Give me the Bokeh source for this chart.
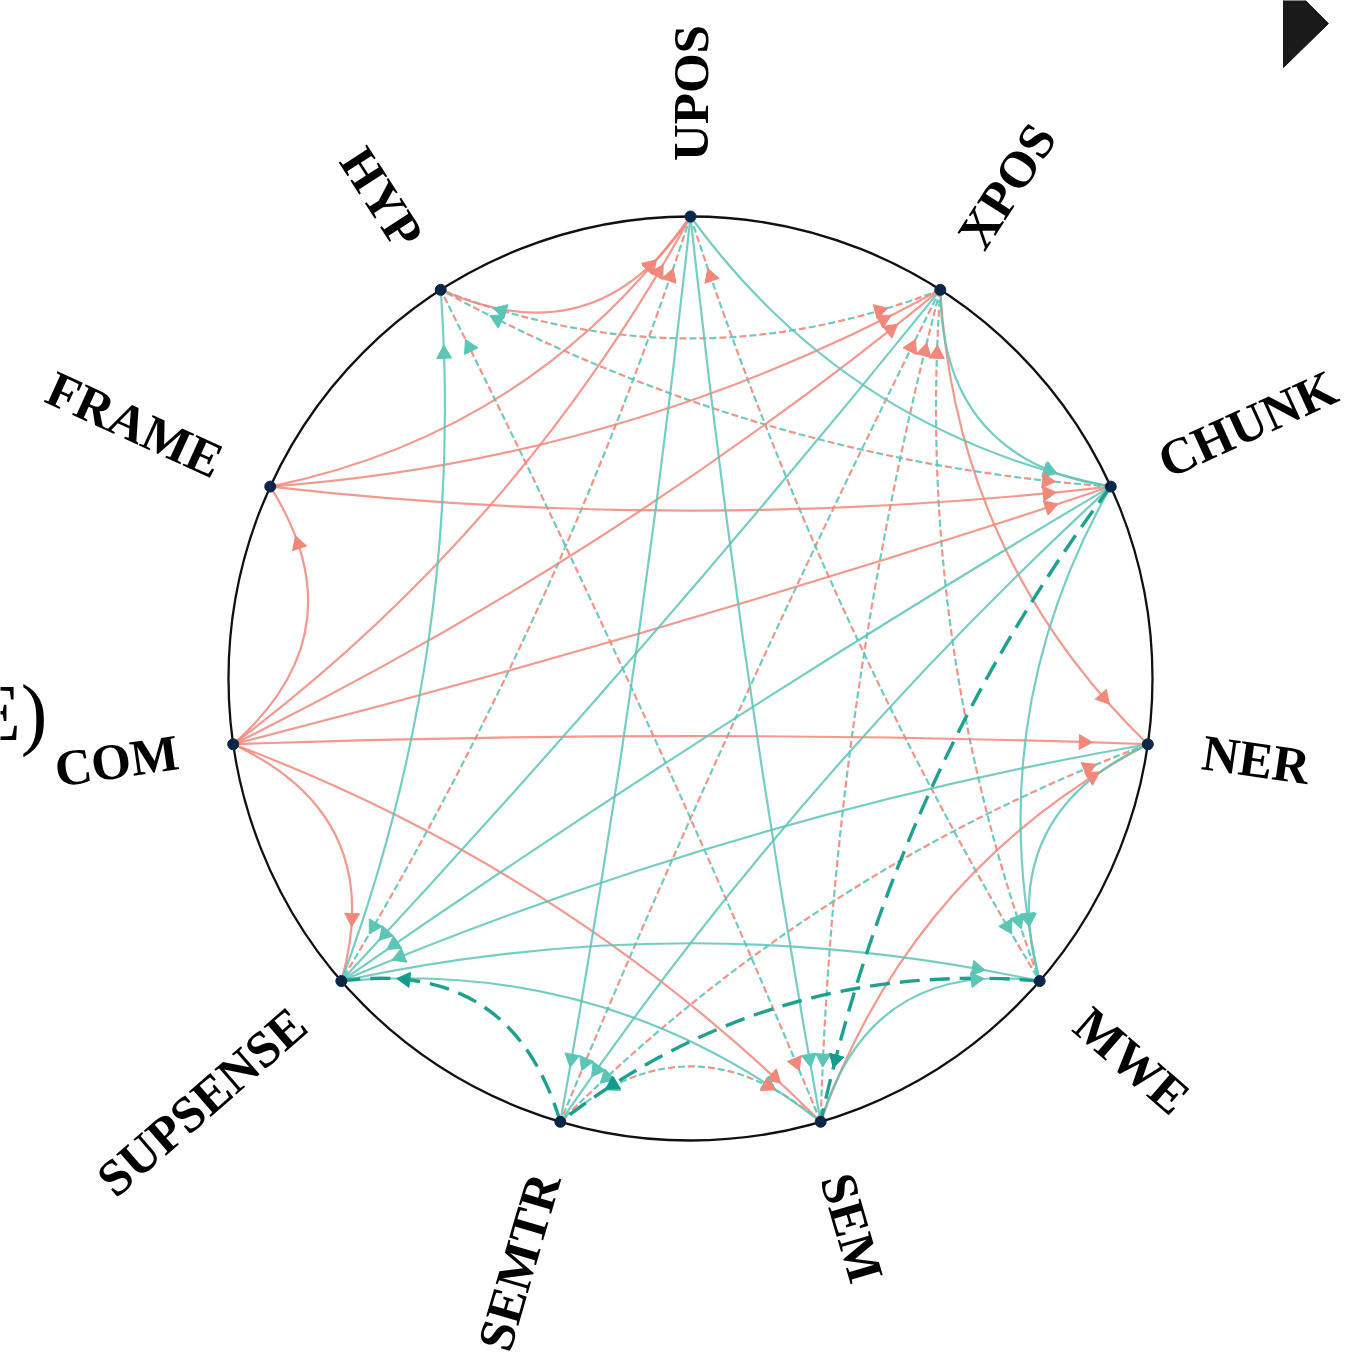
import numpy as np
from bokeh.plotting import figure
from bokeh.models import Range1d, ColumnDataSource
from bokeh.core.properties import value
from bokeh.embed import file_html
from bokeh.resources import INLINE

# ---------------- data ----------------
nodes = ["UPOS", "XPOS", "CHUNK", "NER", "MWE", "SEM", "SEMTR",
         "SUPSENSE", "COM", "FRAME", "HYP"]

# solid salmon edges (source -> target)
salmon_solid = [("HYP", "UPOS"), ("FRAME", "UPOS"), ("COM", "UPOS"),
                ("FRAME", "XPOS"), ("COM", "XPOS"), ("FRAME", "CHUNK"),
                ("COM", "CHUNK"), ("XPOS", "NER"), ("COM", "NER"),
                ("COM", "FRAME"), ("COM", "SUPSENSE"), ("COM", "SEM"),
                ("SEM", "NER")]

# solid teal edges (source -> target)
teal_solid = [("UPOS", "CHUNK"), ("XPOS", "CHUNK"), ("UPOS", "SEMTR"),
              ("UPOS", "SEM"), ("XPOS", "SUPSENSE"), ("CHUNK", "SUPSENSE"),
              ("CHUNK", "SEMTR"), ("CHUNK", "MWE"), ("NER", "SUPSENSE"),
              ("NER", "MWE"), ("SUPSENSE", "HYP"), ("SUPSENSE", "MWE"),
              ("SUPSENSE", "SEM"), ("SEM", "MWE")]

# two-way dashed edges: (salmon arrow target, teal arrow target)
mixed_dashed = [("XPOS", "HYP"), ("CHUNK", "HYP"), ("SEM", "HYP"),
                ("UPOS", "SUPSENSE"), ("UPOS", "MWE"), ("XPOS", "SEMTR"),
                ("XPOS", "SEM"), ("XPOS", "MWE"), ("NER", "SEMTR"),
                ("SEM", "SEMTR")]

# thick dark dashed edges (source -> target)
dark_dashed = [("SEMTR", "SUPSENSE"), ("MWE", "SEMTR"), ("CHUNK", "SEM")]

panel_label = "(E)"

# ---------------- style ----------------
SALMON = "#F3877A"
TEAL = "#5CC6B6"
DARK = "#149B89"
NODE = "#0B2748"
PX = 462.0          # pixels per unit radius
CX, CY = 690.0, 678.0
W, H = 1345, 1369
BEND = 0.75         # control point = BEND * chord midpoint
ARROW_D = 64.0 / PX
ARROW_SIZE = 15

ang = np.deg2rad(90.0 - np.arange(len(nodes)) * 360.0 / len(nodes))
pos = {n: (float(np.cos(a)), float(np.sin(a))) for n, a in zip(nodes, ang)}


def curve(a, b):
    (x0, y0), (x1, y1) = pos[a], pos[b]
    cx, cy = BEND * (x0 + x1) / 2, BEND * (y0 + y1) / 2
    return x0, y0, x1, y1, cx, cy


def arrow_at(a, b):
    """arrow on curve a->b, a fixed arc length before b"""
    x0, y0, x1, y1, cx, cy = curve(a, b)
    t = np.linspace(0, 1, 600)
    bx = (1 - t) ** 2 * x0 + 2 * t * (1 - t) * cx + t ** 2 * x1
    by = (1 - t) ** 2 * y0 + 2 * t * (1 - t) * cy + t ** 2 * y1
    seg = np.hypot(np.diff(bx), np.diff(by))
    from_end = np.concatenate([np.cumsum(seg[::-1])[::-1], [0.0]])
    i = int(np.argmin(np.abs(from_end - ARROW_D)))
    tt = t[i]
    dx = 2 * (1 - tt) * (cx - x0) + 2 * tt * (x1 - cx)
    dy = 2 * (1 - tt) * (cy - y0) + 2 * tt * (y1 - cy)
    return bx[i], by[i], float(np.arctan2(dy, dx) - np.pi / 2)


def curve_source(edges):
    cols = {k: [] for k in ("x0", "y0", "x1", "y1", "cx", "cy")}
    for a, b in edges:
        for k, v in zip(("x0", "y0", "x1", "y1", "cx", "cy"), curve(a, b)):
            cols[k].append(v)
    return ColumnDataSource(cols)


def arrow_source(edges):
    xs, ys, an = [], [], []
    for a, b in edges:
        x, y, r = arrow_at(a, b)
        xs.append(x); ys.append(y); an.append(r)
    return ColumnDataSource(dict(x=xs, y=ys, angle=an))


p = figure(width=W, height=H,
           x_range=Range1d(-CX / PX, (W - CX) / PX),
           y_range=Range1d(-(H - CY) / PX, CY / PX),
           output_backend="svg", toolbar_location=None,
           x_axis_type=None, y_axis_type=None,
           min_border=0, outline_line_color=None,
           background_fill_color="white", border_fill_color="white")
p.grid.visible = False

# outer circle
p.circle(x=[0.0], y=[0.0], radius=1.0, fill_color=None,
         line_color="#111111", line_width=2.3)

# dashed two-tone edges
dsrc = curve_source(mixed_dashed)
p.quadratic(x0="x0", y0="y0", x1="x1", y1="y1", cx="cx", cy="cy", source=dsrc,
            line_color=SALMON, line_width=2.2, line_alpha=0.9,
            line_dash="7 13", line_dash_offset=0)
p.quadratic(x0="x0", y0="y0", x1="x1", y1="y1", cx="cx", cy="cy", source=dsrc,
            line_color=TEAL, line_width=2.2, line_alpha=0.9,
            line_dash="7 13", line_dash_offset=10)

# solid edges
p.quadratic(x0="x0", y0="y0", x1="x1", y1="y1", cx="cx", cy="cy",
            source=curve_source(salmon_solid),
            line_color=SALMON, line_width=2.2, line_alpha=0.85)
p.quadratic(x0="x0", y0="y0", x1="x1", y1="y1", cx="cx", cy="cy",
            source=curve_source(teal_solid),
            line_color=TEAL, line_width=2.2, line_alpha=0.85)

# dark dashed edges
p.quadratic(x0="x0", y0="y0", x1="x1", y1="y1", cx="cx", cy="cy",
            source=curve_source(dark_dashed),
            line_color=DARK, line_width=3.4, line_alpha=0.95,
            line_dash="20 10")

# arrow heads
p.scatter(x="x", y="y", angle="angle", source=arrow_source(salmon_solid),
          marker="triangle", size=ARROW_SIZE, fill_color=SALMON, line_color=SALMON)
p.scatter(x="x", y="y", angle="angle", source=arrow_source(teal_solid),
          marker="triangle", size=ARROW_SIZE, fill_color=TEAL, line_color=TEAL)
p.scatter(x="x", y="y", angle="angle",
          source=arrow_source([(b, a) for a, b in mixed_dashed]),
          marker="triangle", size=ARROW_SIZE, fill_color=SALMON, line_color=SALMON)
p.scatter(x="x", y="y", angle="angle",
          source=arrow_source([(a, b) for a, b in mixed_dashed]),
          marker="triangle", size=ARROW_SIZE, fill_color=TEAL, line_color=TEAL)
p.scatter(x="x", y="y", angle="angle", source=arrow_source(dark_dashed),
          marker="triangle", size=ARROW_SIZE, fill_color=DARK, line_color=DARK)

# nodes
p.scatter(x=[pos[n][0] for n in nodes], y=[pos[n][1] for n in nodes],
          size=11, fill_color=NODE, line_color=NODE)

# labels
lx, ly, la, lal = [], [], [], []
for n, a in zip(nodes, ang):
    lx.append(1.12 * np.cos(a)); ly.append(1.12 * np.sin(a))
    if np.cos(a) > -1e-9:
        la.append(float(a)); lal.append("left")
    else:
        la.append(float(a - np.pi)); lal.append("right")
p.text(x="x", y="y", text="t", angle="angle", text_align="align",
       source=ColumnDataSource(dict(x=lx, y=ly, t=nodes, angle=la, align=lal)),
       text_baseline="middle", text_font=value("Liberation Serif"),
       text_font_style="bold", text_font_size="51px", text_color="black")

# cropped panel label at the left edge
p.text(x=[(47 - CX) / PX], y=[(CY - 712) / PX], text=[panel_label],
       text_align="right", text_baseline="middle",
       text_font=value("Liberation Serif"), text_font_size="80px",
       text_color="black")

# play-button triangle, top right corner
tri_px = [(1283, -22), (1283, 67), (1328, 23)]
p.patch(x=[(u - CX) / PX for u, v in tri_px], y=[(CY - v) / PX for u, v in tri_px],
        fill_color="#1a1a1a", line_color="#1a1a1a")

open("out.html", "w").write(file_html(p, INLINE))
